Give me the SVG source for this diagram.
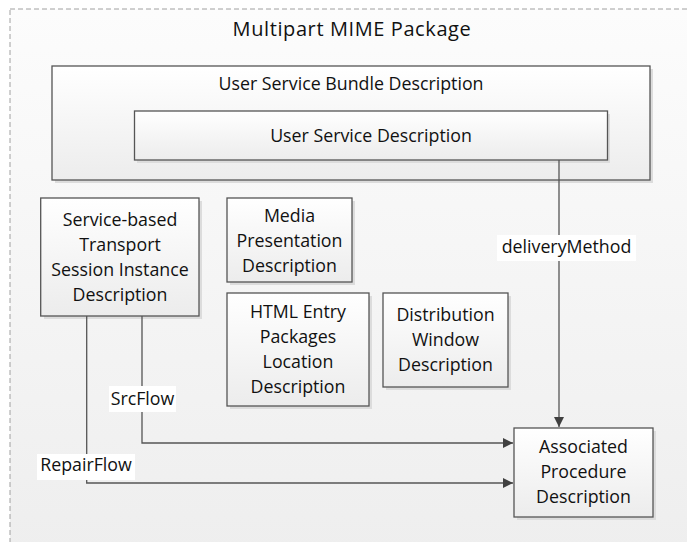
<svg xmlns="http://www.w3.org/2000/svg" width="687" height="542" viewBox="0 0 687 542">
<defs>
<linearGradient id="bg" x1="0" y1="0" x2="0" y2="1"><stop offset="0" stop-color="#fcfcfc"/><stop offset="1" stop-color="#eeeeee"/></linearGradient>
<linearGradient id="bx" x1="0" y1="0" x2="0" y2="1"><stop offset="0" stop-color="#ffffff"/><stop offset="1" stop-color="#ececec"/></linearGradient>
<marker id="ah" viewBox="0 0 10 10" refX="10" refY="5" markerWidth="10" markerHeight="10" markerUnits="userSpaceOnUse" orient="auto"><path d="M0,0 L10,5 L0,10 Z" fill="#404040"/></marker>
<style>
.box{fill:url(#bx);stroke:#555;stroke-width:1.3}
.sh{fill:#dcdcdc}
text{font-family:"Open Sans","Noto Sans",sans-serif;font-size:17.8px;fill:#111;text-anchor:middle}
.lbl{fill:#fff}
.con{fill:none;stroke:#555;stroke-width:1.3}
</style>
</defs>
<rect x="0" y="0" width="687" height="542" fill="#ffffff"/>
<rect x="10" y="9" width="690" height="545" fill="url(#bg)" stroke="#a0a0a0" stroke-width="1" stroke-dasharray="5,3"/>
<text x="352" y="36" style="font-size:20px;letter-spacing:0.6px">Multipart MIME Package</text>
<g id="bundle">
<rect class="sh" x="55" y="69" width="598" height="114"/>
<rect class="box" x="52" y="66" width="598" height="114"/>
<text x="351" y="90">User Service Bundle Description</text>
</g>
<g id="usd">
<rect class="sh" x="137" y="114" width="473" height="49"/>
<rect class="box" x="134.5" y="111" width="473" height="49"/>
<text x="371" y="142">User Service Description</text>
</g>
<g id="sbtsid">
<rect class="sh" x="44" y="201" width="158" height="118"/>
<rect class="box" x="40.7" y="198" width="158.3" height="118"/>
<text x="120" y="226">Service-based</text>
<text x="120" y="251">Transport</text>
<text x="120" y="276">Session Instance</text>
<text x="120" y="301">Description</text>
</g>
<g id="mpd">
<rect class="sh" x="230" y="201" width="125" height="84"/>
<rect class="box" x="227" y="198" width="125" height="84"/>
<text x="289.5" y="222">Media</text>
<text x="289.5" y="247">Presentation</text>
<text x="289.5" y="272">Description</text>
</g>
<g id="html">
<rect class="sh" x="230" y="296" width="142" height="113"/>
<rect class="box" x="227" y="293" width="142" height="113"/>
<text x="298" y="318">HTML Entry</text>
<text x="298" y="343">Packages</text>
<text x="298" y="368">Location</text>
<text x="298" y="393">Description</text>
</g>
<g id="dwd">
<rect class="sh" x="386" y="296" width="125" height="94"/>
<rect class="box" x="383" y="293" width="125" height="94"/>
<text x="445.5" y="321">Distribution</text>
<text x="445.5" y="346">Window</text>
<text x="445.5" y="371">Description</text>
</g>
<g id="apd">
<rect class="sh" x="517" y="431" width="139" height="89"/>
<rect class="box" x="514" y="428" width="139" height="89"/>
<text x="583.5" y="453">Associated</text>
<text x="583.5" y="478">Procedure</text>
<text x="583.5" y="503">Description</text>
</g>
<g id="connectors">
<path class="con" d="M559,160 V427" marker-end="url(#ah)"/>
<rect class="lbl" x="497" y="235" width="139" height="26"/>
<text x="566.5" y="253">deliveryMethod</text>
<path class="con" d="M142,316 V443 H513" marker-end="url(#ah)"/>
<rect class="lbl" x="109" y="386" width="67" height="26"/>
<text x="142.5" y="405">SrcFlow</text>
<path class="con" d="M86.7,316 V483 H513" marker-end="url(#ah)"/>
<rect class="lbl" x="37" y="454" width="98" height="26"/>
<text x="86" y="471">RepairFlow</text>
</g>
</svg>
